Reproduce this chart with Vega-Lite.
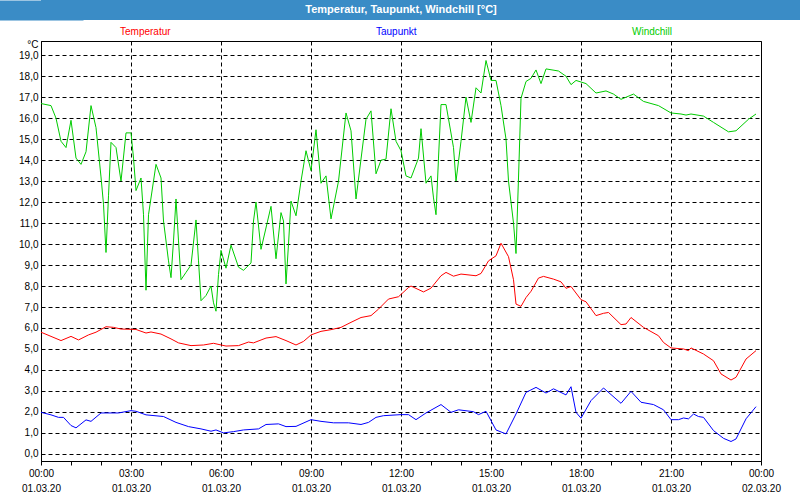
{
  "$schema": "https://vega.github.io/schema/vega-lite/v6.json",
  "padding": 0,
  "background": "white",
  "spacing": 18,
  "config": {"font": "Liberation Sans", "view": {"stroke": null}},
  "datasets": {
    "wind": [
      {"t":"2020-03-01T00:00","v":16.7},{"t":"2020-03-01T00:20","v":16.6},{"t":"2020-03-01T00:30","v":16.0},{"t":"2020-03-01T00:40","v":14.9},{"t":"2020-03-01T00:50","v":14.6},
      {"t":"2020-03-01T01:00","v":15.9},{"t":"2020-03-01T01:10","v":14.1},{"t":"2020-03-01T01:20","v":13.8},{"t":"2020-03-01T01:30","v":14.4},{"t":"2020-03-01T01:40","v":16.6},{"t":"2020-03-01T01:50","v":15.55},
      {"t":"2020-03-01T02:00","v":13.2},{"t":"2020-03-01T02:05","v":11.9},{"t":"2020-03-01T02:10","v":9.6},{"t":"2020-03-01T02:15","v":12.3},{"t":"2020-03-01T02:20","v":14.85},{"t":"2020-03-01T02:30","v":14.6},{"t":"2020-03-01T02:40","v":13.0},{"t":"2020-03-01T02:50","v":15.3},
      {"t":"2020-03-01T03:00","v":15.3},{"t":"2020-03-01T03:05","v":14.1},{"t":"2020-03-01T03:10","v":12.55},{"t":"2020-03-01T03:20","v":13.15},{"t":"2020-03-01T03:25","v":11.4},{"t":"2020-03-01T03:30","v":7.8},{"t":"2020-03-01T03:35","v":11.4},{"t":"2020-03-01T03:50","v":13.8},
      {"t":"2020-03-01T04:00","v":13.15},{"t":"2020-03-01T04:05","v":11.1},{"t":"2020-03-01T04:15","v":9.2},{"t":"2020-03-01T04:20","v":8.4},{"t":"2020-03-01T04:25","v":10.15},{"t":"2020-03-01T04:30","v":12.15},{"t":"2020-03-01T04:35","v":10.15},{"t":"2020-03-01T04:40","v":8.3},{"t":"2020-03-01T04:50","v":8.65},
      {"t":"2020-03-01T05:00","v":9.0},{"t":"2020-03-01T05:10","v":11.15},{"t":"2020-03-01T05:15","v":9.2},{"t":"2020-03-01T05:20","v":7.3},{"t":"2020-03-01T05:30","v":7.55},{"t":"2020-03-01T05:40","v":8.0},{"t":"2020-03-01T05:45","v":7.2},{"t":"2020-03-01T05:50","v":6.8},{"t":"2020-03-01T05:55","v":8.55},
      {"t":"2020-03-01T06:00","v":9.7},{"t":"2020-03-01T06:10","v":8.85},{"t":"2020-03-01T06:20","v":9.95},{"t":"2020-03-01T06:35","v":8.9},{"t":"2020-03-01T06:45","v":8.75},
      {"t":"2020-03-01T07:00","v":9.1},{"t":"2020-03-01T07:05","v":11.1},{"t":"2020-03-01T07:10","v":12.0},{"t":"2020-03-01T07:20","v":9.75},{"t":"2020-03-01T07:40","v":11.8},{"t":"2020-03-01T07:50","v":9.3},
      {"t":"2020-03-01T08:00","v":11.5},{"t":"2020-03-01T08:05","v":11.1},{"t":"2020-03-01T08:10","v":8.1},{"t":"2020-03-01T08:15","v":10.0},{"t":"2020-03-01T08:20","v":12.05},{"t":"2020-03-01T08:30","v":11.35},{"t":"2020-03-01T08:40","v":13.0},{"t":"2020-03-01T08:50","v":14.45},
      {"t":"2020-03-01T09:00","v":13.5},{"t":"2020-03-01T09:10","v":15.45},{"t":"2020-03-01T09:20","v":12.9},{"t":"2020-03-01T09:30","v":13.25},{"t":"2020-03-01T09:40","v":11.2},{"t":"2020-03-01T09:55","v":13.0},
      {"t":"2020-03-01T10:10","v":16.25},{"t":"2020-03-01T10:20","v":15.4},{"t":"2020-03-01T10:30","v":12.15},{"t":"2020-03-01T10:50","v":15.95},
      {"t":"2020-03-01T11:00","v":16.35},{"t":"2020-03-01T11:10","v":13.35},{"t":"2020-03-01T11:20","v":14.0},{"t":"2020-03-01T11:30","v":14.05},{"t":"2020-03-01T11:40","v":16.45},{"t":"2020-03-01T11:50","v":14.9},
      {"t":"2020-03-01T12:00","v":14.45},{"t":"2020-03-01T12:10","v":13.25},{"t":"2020-03-01T12:20","v":13.15},{"t":"2020-03-01T12:35","v":14.1},{"t":"2020-03-01T12:40","v":15.5},{"t":"2020-03-01T12:50","v":12.9},
      {"t":"2020-03-01T13:00","v":13.25},{"t":"2020-03-01T13:05","v":12.2},{"t":"2020-03-01T13:10","v":11.4},{"t":"2020-03-01T13:15","v":14.1},{"t":"2020-03-01T13:20","v":16.65},{"t":"2020-03-01T13:30","v":16.65},{"t":"2020-03-01T13:45","v":14.6},{"t":"2020-03-01T13:50","v":13.0},
      {"t":"2020-03-01T14:00","v":14.9},{"t":"2020-03-01T14:10","v":17.0},{"t":"2020-03-01T14:20","v":15.8},{"t":"2020-03-01T14:30","v":17.45},{"t":"2020-03-01T14:40","v":17.2},{"t":"2020-03-01T14:50","v":18.75},
      {"t":"2020-03-01T15:00","v":17.8},{"t":"2020-03-01T15:10","v":17.8},{"t":"2020-03-01T15:20","v":16.6},{"t":"2020-03-01T15:30","v":15.0},{"t":"2020-03-01T15:35","v":13.0},{"t":"2020-03-01T15:45","v":11.0},{"t":"2020-03-01T15:50","v":9.55},{"t":"2020-03-01T15:55","v":13.15},
      {"t":"2020-03-01T16:00","v":16.95},{"t":"2020-03-01T16:10","v":17.75},{"t":"2020-03-01T16:20","v":17.9},{"t":"2020-03-01T16:30","v":18.3},{"t":"2020-03-01T16:40","v":17.65},{"t":"2020-03-01T16:50","v":18.35},
      {"t":"2020-03-01T17:15","v":18.25},{"t":"2020-03-01T17:30","v":18.0},{"t":"2020-03-01T17:40","v":17.6},{"t":"2020-03-01T17:50","v":17.8},
      {"t":"2020-03-01T18:10","v":17.65},{"t":"2020-03-01T18:30","v":17.2},{"t":"2020-03-01T18:50","v":17.3},
      {"t":"2020-03-01T19:05","v":17.15},{"t":"2020-03-01T19:20","v":16.9},{"t":"2020-03-01T19:45","v":17.15},
      {"t":"2020-03-01T20:05","v":16.8},{"t":"2020-03-01T20:35","v":16.6},
      {"t":"2020-03-01T21:00","v":16.25},{"t":"2020-03-01T21:20","v":16.2},{"t":"2020-03-01T21:30","v":16.15},{"t":"2020-03-01T21:40","v":16.2},
      {"t":"2020-03-01T22:05","v":16.1},{"t":"2020-03-01T22:25","v":15.8},{"t":"2020-03-01T22:55","v":15.35},
      {"t":"2020-03-01T23:10","v":15.4},{"t":"2020-03-01T23:35","v":15.95},{"t":"2020-03-01T23:50","v":16.2}
    ],
    "temp": [
      {"t":"2020-03-01T00:00","v":5.8},{"t":"2020-03-01T00:20","v":5.6},{"t":"2020-03-01T00:40","v":5.4},{"t":"2020-03-01T01:00","v":5.6},{"t":"2020-03-01T01:15","v":5.43},{"t":"2020-03-01T01:35","v":5.67},{"t":"2020-03-01T01:50","v":5.8},
      {"t":"2020-03-01T02:10","v":6.06},{"t":"2020-03-01T02:25","v":6.03},{"t":"2020-03-01T02:40","v":5.95},{"t":"2020-03-01T03:10","v":5.93},{"t":"2020-03-01T03:30","v":5.76},{"t":"2020-03-01T03:40","v":5.81},
      {"t":"2020-03-01T04:00","v":5.71},{"t":"2020-03-01T04:20","v":5.48},{"t":"2020-03-01T04:35","v":5.29},{"t":"2020-03-01T05:00","v":5.16},{"t":"2020-03-01T05:25","v":5.19},{"t":"2020-03-01T05:45","v":5.27},
      {"t":"2020-03-01T06:10","v":5.14},{"t":"2020-03-01T06:35","v":5.16},{"t":"2020-03-01T06:55","v":5.33},{"t":"2020-03-01T07:05","v":5.29},{"t":"2020-03-01T07:30","v":5.52},{"t":"2020-03-01T07:50","v":5.59},
      {"t":"2020-03-01T08:10","v":5.4},{"t":"2020-03-01T08:30","v":5.19},{"t":"2020-03-01T08:45","v":5.36},{"t":"2020-03-01T09:00","v":5.67},{"t":"2020-03-01T09:20","v":5.84},{"t":"2020-03-01T09:40","v":5.92},
      {"t":"2020-03-01T10:00","v":6.03},{"t":"2020-03-01T10:20","v":6.27},{"t":"2020-03-01T10:40","v":6.5},{"t":"2020-03-01T11:00","v":6.59},{"t":"2020-03-01T11:15","v":6.9},{"t":"2020-03-01T11:35","v":7.38},{"t":"2020-03-01T11:55","v":7.49},
      {"t":"2020-03-01T12:15","v":7.93},{"t":"2020-03-01T12:20","v":8.0},{"t":"2020-03-01T12:45","v":7.72},{"t":"2020-03-01T13:00","v":7.9},{"t":"2020-03-01T13:20","v":8.49},{"t":"2020-03-01T13:30","v":8.65},{"t":"2020-03-01T13:45","v":8.47},
      {"t":"2020-03-01T14:00","v":8.57},{"t":"2020-03-01T14:30","v":8.49},{"t":"2020-03-01T14:40","v":8.6},{"t":"2020-03-01T14:55","v":9.2},{"t":"2020-03-01T15:10","v":9.44},{"t":"2020-03-01T15:20","v":10.04},{"t":"2020-03-01T15:35","v":9.4},{"t":"2020-03-01T15:45","v":8.3},{"t":"2020-03-01T15:50","v":7.14},
      {"t":"2020-03-01T16:00","v":7.03},{"t":"2020-03-01T16:10","v":7.45},{"t":"2020-03-01T16:20","v":7.75},{"t":"2020-03-01T16:35","v":8.38},{"t":"2020-03-01T16:45","v":8.46},{"t":"2020-03-01T17:05","v":8.33},{"t":"2020-03-01T17:20","v":8.2},{"t":"2020-03-01T17:30","v":7.89},{"t":"2020-03-01T17:40","v":7.98},
      {"t":"2020-03-01T18:00","v":7.35},{"t":"2020-03-01T18:10","v":7.25},{"t":"2020-03-01T18:30","v":6.59},{"t":"2020-03-01T18:45","v":6.7},{"t":"2020-03-01T18:55","v":6.74},{"t":"2020-03-01T19:20","v":6.16},{"t":"2020-03-01T19:30","v":6.19},{"t":"2020-03-01T19:40","v":6.5},
      {"t":"2020-03-01T20:05","v":6.03},{"t":"2020-03-01T20:35","v":5.63},{"t":"2020-03-01T20:45","v":5.31},{"t":"2020-03-01T21:00","v":5.05},{"t":"2020-03-01T21:25","v":5.0},{"t":"2020-03-01T21:35","v":4.92},{"t":"2020-03-01T21:40","v":5.05},
      {"t":"2020-03-01T22:05","v":4.76},{"t":"2020-03-01T22:25","v":4.44},{"t":"2020-03-01T22:40","v":3.81},{"t":"2020-03-01T23:00","v":3.52},{"t":"2020-03-01T23:10","v":3.65},{"t":"2020-03-01T23:30","v":4.52},{"t":"2020-03-01T23:50","v":4.92}
    ],
    "dew": [
      {"t":"2020-03-01T00:00","v":1.98},{"t":"2020-03-01T00:20","v":1.86},{"t":"2020-03-01T00:35","v":1.74},{"t":"2020-03-01T00:45","v":1.74},{"t":"2020-03-01T01:00","v":1.35},{"t":"2020-03-01T01:10","v":1.24},{"t":"2020-03-01T01:30","v":1.62},{"t":"2020-03-01T01:40","v":1.55},
      {"t":"2020-03-01T02:00","v":1.95},{"t":"2020-03-01T02:35","v":1.95},{"t":"2020-03-01T03:00","v":2.06},{"t":"2020-03-01T03:10","v":2.03},{"t":"2020-03-01T03:30","v":1.86},{"t":"2020-03-01T04:05","v":1.78},{"t":"2020-03-01T04:30","v":1.5},{"t":"2020-03-01T04:55","v":1.3},
      {"t":"2020-03-01T05:20","v":1.19},{"t":"2020-03-01T05:40","v":1.08},{"t":"2020-03-01T05:50","v":1.14},{"t":"2020-03-01T06:05","v":1.0},{"t":"2020-03-01T06:25","v":1.06},{"t":"2020-03-01T06:45","v":1.14},{"t":"2020-03-01T07:15","v":1.19},{"t":"2020-03-01T07:30","v":1.4},{"t":"2020-03-01T07:55","v":1.43},
      {"t":"2020-03-01T08:10","v":1.3},{"t":"2020-03-01T08:30","v":1.31},{"t":"2020-03-01T09:00","v":1.63},{"t":"2020-03-01T09:20","v":1.55},{"t":"2020-03-01T09:45","v":1.48},{"t":"2020-03-01T10:15","v":1.48},{"t":"2020-03-01T10:40","v":1.4},{"t":"2020-03-01T10:55","v":1.5},
      {"t":"2020-03-01T11:10","v":1.74},{"t":"2020-03-01T11:25","v":1.82},{"t":"2020-03-01T12:00","v":1.87},{"t":"2020-03-01T12:15","v":1.87},{"t":"2020-03-01T12:30","v":1.63},{"t":"2020-03-01T12:50","v":1.95},{"t":"2020-03-01T13:20","v":2.35},{"t":"2020-03-01T13:40","v":1.98},{"t":"2020-03-01T13:55","v":2.1},
      {"t":"2020-03-01T14:25","v":2.01},{"t":"2020-03-01T14:35","v":1.87},{"t":"2020-03-01T14:50","v":2.03},{"t":"2020-03-01T15:10","v":1.14},{"t":"2020-03-01T15:30","v":0.95},{"t":"2020-03-01T15:50","v":1.9},
      {"t":"2020-03-01T16:10","v":2.93},{"t":"2020-03-01T16:30","v":3.17},{"t":"2020-03-01T16:50","v":2.9},{"t":"2020-03-01T17:05","v":3.1},{"t":"2020-03-01T17:30","v":2.81},{"t":"2020-03-01T17:40","v":3.2},{"t":"2020-03-01T17:50","v":1.98},
      {"t":"2020-03-01T18:00","v":1.7},{"t":"2020-03-01T18:20","v":2.54},{"t":"2020-03-01T18:45","v":3.14},{"t":"2020-03-01T19:20","v":2.41},{"t":"2020-03-01T19:40","v":2.98},{"t":"2020-03-01T20:00","v":2.46},{"t":"2020-03-01T20:25","v":2.35},{"t":"2020-03-01T20:45","v":2.1},
      {"t":"2020-03-01T21:00","v":1.63},{"t":"2020-03-01T21:15","v":1.63},{"t":"2020-03-01T21:25","v":1.71},{"t":"2020-03-01T21:35","v":1.67},{"t":"2020-03-01T21:45","v":1.9},{"t":"2020-03-01T21:55","v":1.78},{"t":"2020-03-01T22:05","v":1.74},
      {"t":"2020-03-01T22:25","v":1.11},{"t":"2020-03-01T22:45","v":0.74},{"t":"2020-03-01T23:00","v":0.59},{"t":"2020-03-01T23:10","v":0.71},{"t":"2020-03-01T23:30","v":1.67},{"t":"2020-03-01T23:50","v":2.25}
    ]
  },
  "vconcat": [
    {
      "width": 760,
      "height": 20,
      "view": {"fill": "#3a8cc6", "stroke": null},
      "data": {"values": [{"title": "Temperatur, Taupunkt, Windchill [°C]"}]},
      "mark": {"type": "text", "color": "white", "fontWeight": "bold", "fontSize": 11, "font": "Liberation Sans", "dx": -20},
      "encoding": {
        "text": {"field": "title"},
        "y": {
          "datum": 0.5,
          "type": "quantitative",
          "scale": {"domain": [0, 1]},
          "axis": {"domainColor": "#3a8cc6", "domainWidth": 84, "domainCap": "butt", "labels": false, "ticks": false, "grid": false, "title": null, "minExtent": 40, "maxExtent": 40}
        }
      }
    },
    {
      "width": 720,
      "height": 420,
      "view": {"stroke": "black", "strokeWidth": 1},
      "encoding": {
        "x": {
          "field": "t",
          "type": "temporal",
          "scale": {"domain": [{"year": 2020, "month": 3, "date": 1, "hours": 0}, {"year": 2020, "month": 3, "date": 2, "hours": 0}]},
          "axis": {
            "title": null,
            "values": [
              {"year": 2020, "month": 3, "date": 1, "hours": 0},{"year": 2020, "month": 3, "date": 1, "hours": 1},{"year": 2020, "month": 3, "date": 1, "hours": 2},{"year": 2020, "month": 3, "date": 1, "hours": 3},
              {"year": 2020, "month": 3, "date": 1, "hours": 4},{"year": 2020, "month": 3, "date": 1, "hours": 5},{"year": 2020, "month": 3, "date": 1, "hours": 6},{"year": 2020, "month": 3, "date": 1, "hours": 7},
              {"year": 2020, "month": 3, "date": 1, "hours": 8},{"year": 2020, "month": 3, "date": 1, "hours": 9},{"year": 2020, "month": 3, "date": 1, "hours": 10},{"year": 2020, "month": 3, "date": 1, "hours": 11},
              {"year": 2020, "month": 3, "date": 1, "hours": 12},{"year": 2020, "month": 3, "date": 1, "hours": 13},{"year": 2020, "month": 3, "date": 1, "hours": 14},{"year": 2020, "month": 3, "date": 1, "hours": 15},
              {"year": 2020, "month": 3, "date": 1, "hours": 16},{"year": 2020, "month": 3, "date": 1, "hours": 17},{"year": 2020, "month": 3, "date": 1, "hours": 18},{"year": 2020, "month": 3, "date": 1, "hours": 19},
              {"year": 2020, "month": 3, "date": 1, "hours": 20},{"year": 2020, "month": 3, "date": 1, "hours": 21},{"year": 2020, "month": 3, "date": 1, "hours": 22},{"year": 2020, "month": 3, "date": 1, "hours": 23},
              {"year": 2020, "month": 3, "date": 2, "hours": 0}
            ],
            "labelExpr": "hours(datum.value) % 3 == 0 ? [timeFormat(datum.value, '%H:%M'), timeFormat(datum.value, '%d.%m.%y')] : ''",
            "labelOverlap": false,
            "labelFlush": false,
            "labelFontSize": 10,
            "labelColor": "black",
            "labelPadding": 3,
            "labelLineHeight": 15,
            "tickSize": 4,
            "tickColor": "black",
            "domainColor": "black",
            "grid": true,
            "gridColor": "black",
            "gridDash": [4, 3],
            "gridOpacity": {"condition": {"test": "hours(datum.value) % 3 == 0", "value": 1}, "value": 0}
          }
        },
        "y": {
          "field": "v",
          "type": "quantitative",
          "scale": {"domain": [-0.34, 19.68], "nice": false, "zero": false},
          "axis": {
            "values": [0,1,2,3,4,5,6,7,8,9,10,11,12,13,14,15,16,17,18,19],
            "labelExpr": "replace(format(datum.value, '.1f'), '.', ',')",
            "labelFontSize": 10,
            "labelColor": "black",
            "labelPadding": 3,
            "ticks": false,
            "domainColor": "black",
            "grid": true,
            "gridColor": "black",
            "gridDash": [4, 3],
            "title": "°C",
            "titleAngle": 0,
            "titleX": -3,
            "titleY": 3,
            "titleAlign": "right",
            "titleBaseline": "middle",
            "titleFontWeight": "normal",
            "titleFontSize": 10,
            "titleColor": "black",
            "minExtent": 40,
            "maxExtent": 40
          }
        }
      },
      "layer": [
        {
          "data": {"name": "temp"},
          "mark": {"type": "line", "strokeWidth": 1},
          "encoding": {
            "color": {
              "datum": "Temperatur",
              "type": "nominal",
              "scale": {"domain": ["Temperatur", "Taupunkt", "Windchill"], "range": ["#ff0000", "#0000ff", "#00cc00"]},
              "legend": {
                "orient": "none",
                "legendX": 69,
                "legendY": 27,
                "direction": "horizontal",
                "columns": 3,
                "gridAlign": "all",
                "columnPadding": 195,
                "symbolSize": 0,
                "symbolStrokeWidth": 0,
                "symbolOpacity": 0,
                "labelOffset": 0,
                "labelFontSize": 10,
                "title": null,
                "encode": {"labels": {"update": {"fill": {"scale": "color", "field": "value"}}}}
              }
            }
          }
        },
        {
          "data": {"name": "dew"},
          "mark": {"type": "line", "strokeWidth": 1},
          "encoding": {"color": {"datum": "Taupunkt", "type": "nominal"}}
        },
        {
          "data": {"name": "wind"},
          "mark": {"type": "line", "strokeWidth": 1},
          "encoding": {"color": {"datum": "Windchill", "type": "nominal"}}
        }
      ]
    }
  ]
}
